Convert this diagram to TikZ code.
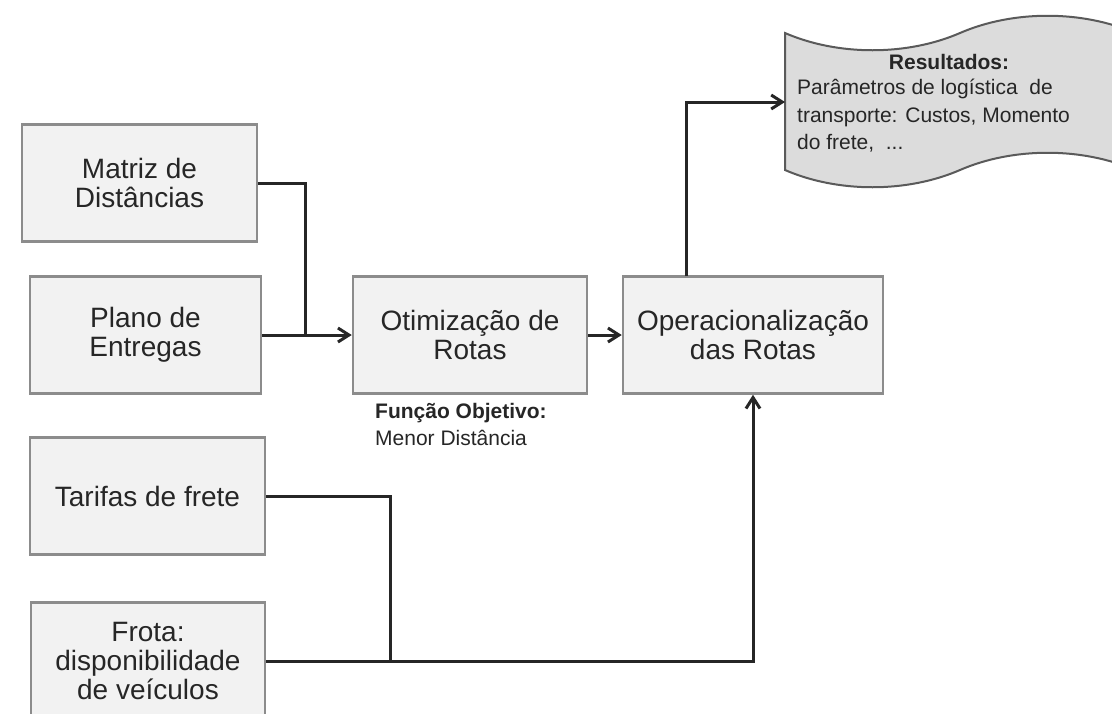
\documentclass[tikz,border=0pt]{standalone}
\usepackage{fontspec}
\setmainfont{Liberation Sans}
\usetikzlibrary{arrows.meta}
\definecolor{boxfill}{HTML}{F2F2F2}
\definecolor{boxline}{HTML}{8C8C8C}
\definecolor{ink}{HTML}{262626}
\definecolor{docfill}{HTML}{DCDCDC}
\definecolor{docline}{HTML}{5A5A5A}
\tikzset{
  hv/.style={to path={-| (\tikztotarget)}},
  vh/.style={to path={|- (\tikztotarget)}},
  smalltext/.style={font=\fontsize{21}{27.5}\selectfont, text=ink, inner sep=0pt}
}
\begin{document}
\begin{tikzpicture}[x=1pt, y=-1pt, >={Straight Barb[length=11pt,width=14pt]}]
  \useasboundingbox (0,0) rectangle (1112,713);
  \clip (0,0) rectangle (1112,713);
  \fill[white] (0,0) rectangle (1112,713);
  % caixas de entrada e processo
  \begin{scope}[every node/.style={draw=boxline, fill=boxfill, line width=2.5pt,
      text=ink, align=center, font=\fontsize{28}{29}\selectfont,
      minimum height=117pt}]
    \node[minimum width=235pt] (matriz) at (139.5,183) {Matriz de\\Distâncias};
    \node[minimum width=231pt] (plano) at (145.5,335) {Plano de\\Entregas};
    \node[minimum width=234pt] (otim) at (470,335) {Otimização de\\Rotas};
    \node[minimum width=260pt] (oper) at (753,335) {Operacionalização\\das Rotas};
    \node[minimum width=235pt] (tarifas) at (147.5,496) {Tarifas de frete};
    \node[minimum width=234pt] (frota) at (148,661) {Frota:\\disponibilidade\\de veículos};
  \end{scope}
  % documento de resultados
  \draw[docline, fill=docfill, line width=2pt]
    (785,33) .. controls (838,56) and (907,56) .. (960,33)
    .. controls (1013,10) and (1082,10) .. (1135,33) -- (1135,170)
    .. controls (1082,147) and (1013,147) .. (960,170)
    .. controls (907,193) and (838,193) .. (785,170) -- cycle;
  \node[smalltext, font=\fontsize{21}{27}\selectfont\bfseries] (restit) at (949,62) {Resultados:};
  \node[smalltext, anchor=north west, align=left] (res) at (797,79)
    {Parâmetros de logística\ \ de\\transporte: Custos, Momento\\do frete,\ \ ...};
  \node[smalltext, anchor=north west, align=left] (fobj) at (375,403)
    {\textbf{Função Objetivo:}\\Menor Distância};
  \coordinate (j1) at (305,335);
  \coordinate (j2) at (390,662);
  \coordinate (tap) at (686,276);
  \coordinate (doc) at (785,102);
  % ligacoes
  \begin{scope}[every edge/.style={draw=ink, line width=3pt}]
    \path (matriz.east) edge[hv] (j1);
    \path (plano.east) edge[->] (otim.west);
    \path (otim.east) edge[->] (oper.west);
    \path (tap) edge[vh, ->] (doc);
    \path (tarifas.east) edge[hv] (j2);
    \path (frota.east) edge[hv, ->] (oper.south);
  \end{scope}
\end{tikzpicture}
\end{document}
